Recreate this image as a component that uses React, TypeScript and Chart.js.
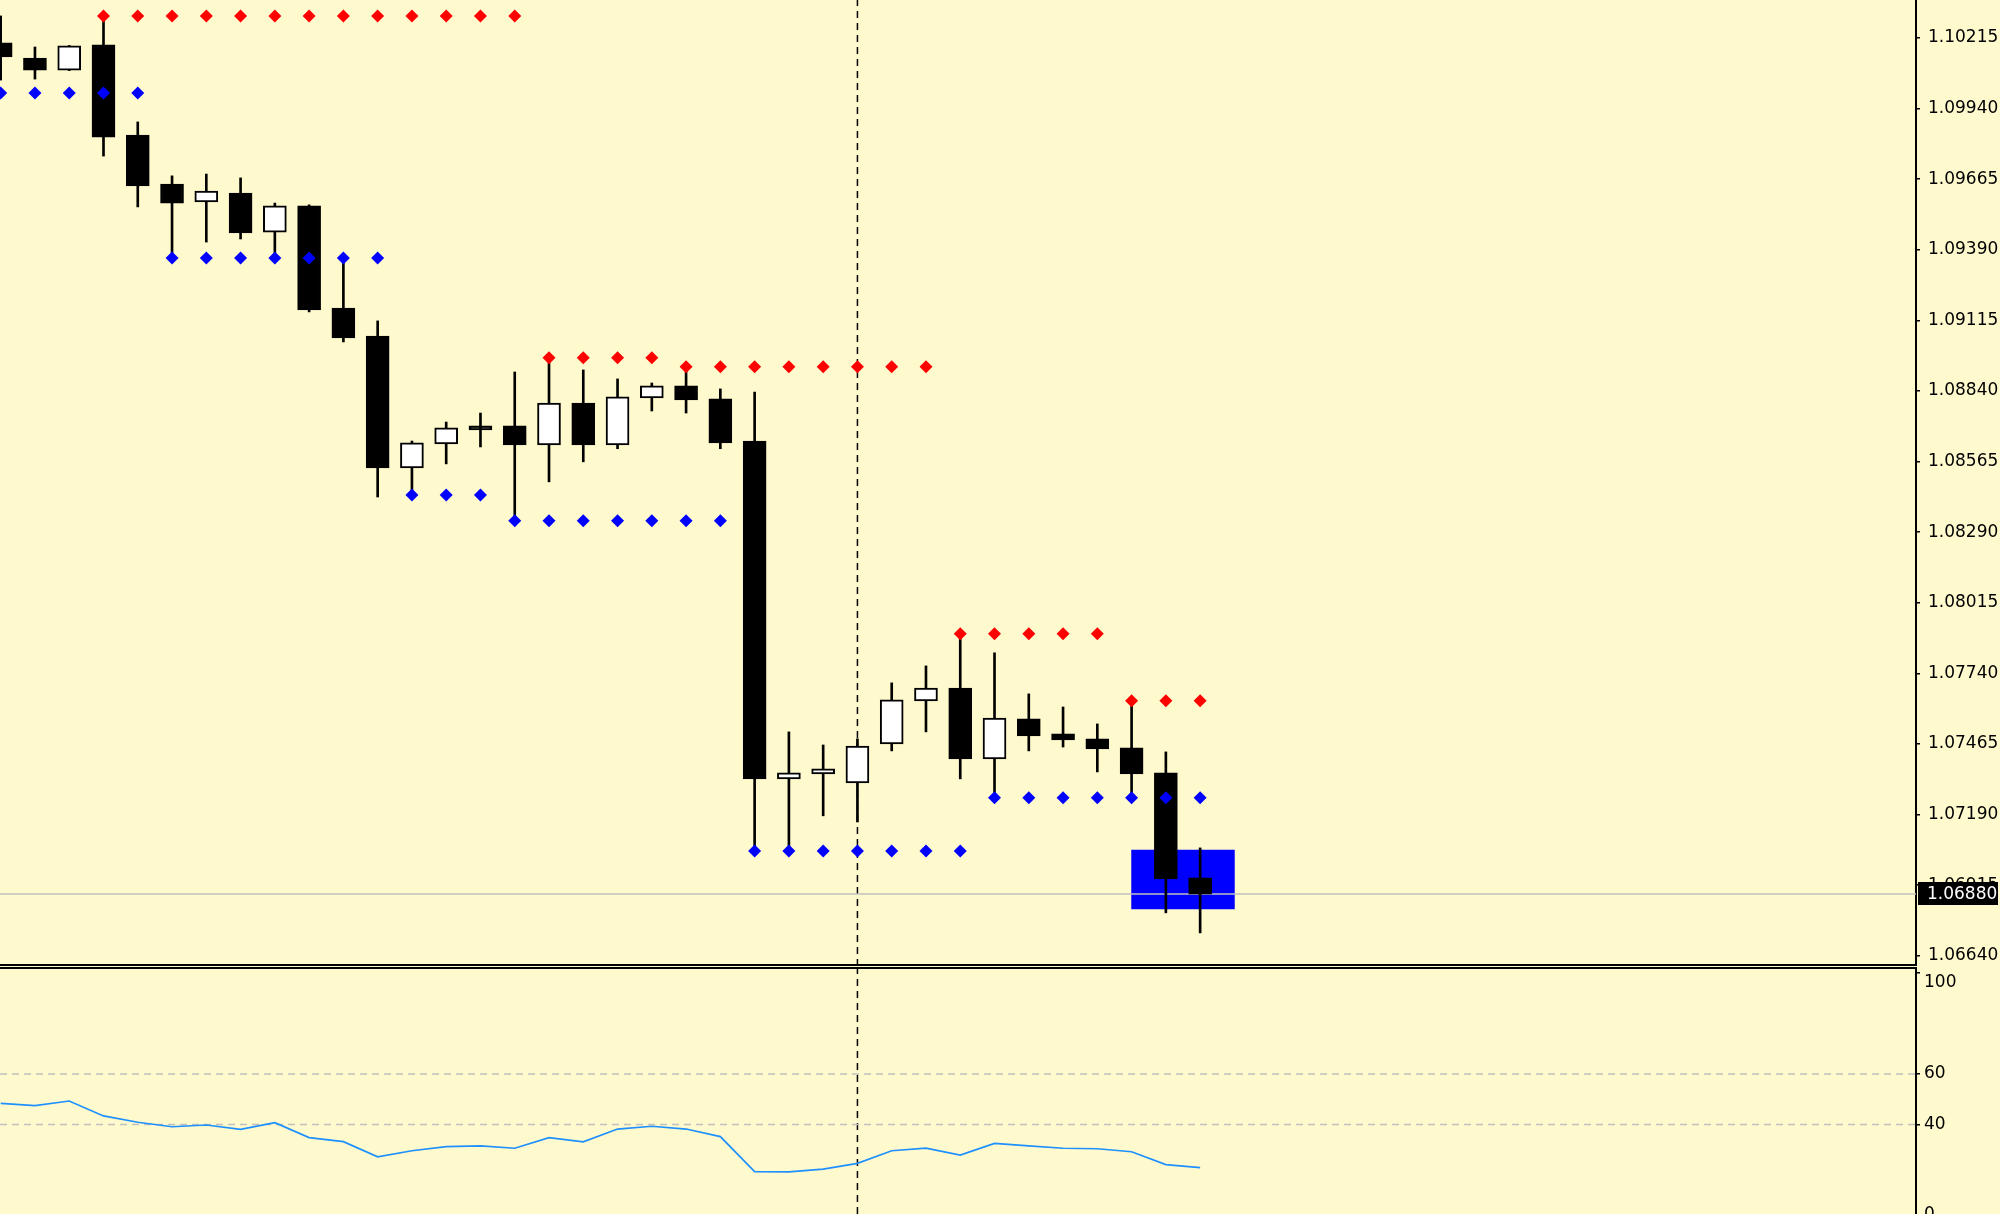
import React, { useEffect, useRef } from 'react';
import { Chart, registerables } from 'chart.js';

Chart.register(...registerables);

// ---------- data ----------
const opens = [
  1.10196, 1.10137, 1.1009, 1.10188, 1.09837, 1.09646, 1.09576, 1.09611, 1.09459, 1.09561,
  1.09163, 1.09054, 1.0854, 1.08634, 1.08704, 1.08704, 1.0863, 1.08793, 1.0863, 1.08813,
  1.0886, 1.08809, 1.08645, 1.07329, 1.07348, 1.07313, 1.07465, 1.07633, 1.07683, 1.07407,
  1.07563, 1.07504, 1.07485, 1.0745, 1.07352, 1.06943,
];
const highs = [
  1.10301, 1.1018, 1.10186, 1.10285, 1.09888, 1.09678, 1.09685, 1.0967, 1.09572, 1.09565,
  1.09343, 1.09113, 1.08645, 1.08719, 1.08754, 1.08914, 1.08965, 1.08922, 1.08887, 1.08871,
  1.08925, 1.08848, 1.08836, 1.07512, 1.07461, 1.07485, 1.07703, 1.07769, 1.0789, 1.0782,
  1.0766, 1.07609, 1.07543, 1.07633, 1.07434, 1.0706,
];
const lows = [
  1.10051, 1.10055, 1.10088, 1.09755, 1.09557, 1.09358, 1.0942, 1.09432, 1.09358, 1.09148,
  1.09031, 1.08427, 1.08435, 1.08556, 1.08622, 1.08334, 1.08486, 1.08564, 1.08615, 1.08762,
  1.08754, 1.08615, 1.07052, 1.07052, 1.07185, 1.07161, 1.07438, 1.07512, 1.07329, 1.07255,
  1.07438, 1.07453, 1.07356, 1.07255, 1.06807, 1.06729,
];
const closes = [
  1.10141, 1.1009, 1.10184, 1.09829, 1.09639, 1.09572, 1.09619, 1.09456, 1.09561, 1.09156,
  1.09047, 1.0854, 1.08638, 1.08696, 1.08688, 1.0863, 1.08793, 1.0863, 1.08817, 1.0886,
  1.08805, 1.08638, 1.07329, 1.07352, 1.07368, 1.07457, 1.07637, 1.07683, 1.07407, 1.07566,
  1.07496, 1.07481, 1.07446, 1.07348, 1.06939, 1.0688,
];
// resistance (red) and support (blue) marker levels per bar
const resistanceLevels: (number | null)[] = [
  null, null, null, 1.10301, 1.10301, 1.10301, 1.10301, 1.10301, 1.10301, 1.10301,
  1.10301, 1.10301, 1.10301, 1.10301, 1.10301, 1.10301, 1.08969, 1.08969, 1.08969, 1.08969,
  1.08934, 1.08934, 1.08934, 1.08934, 1.08934, 1.08934, 1.08934, 1.08934, 1.07894, 1.07894,
  1.07894, 1.07894, 1.07894, 1.07633, 1.07633, 1.07633,
];
const supportLevels: (number | null)[] = [
  1.10001, 1.10001, 1.10001, 1.10001, 1.10001, 1.09358, 1.09358, 1.09358, 1.09358, 1.09358,
  1.09358, 1.09358, 1.08435, 1.08435, 1.08435, 1.08334, 1.08334, 1.08334, 1.08334, 1.08334,
  1.08334, 1.08334, 1.07048, 1.07048, 1.07048, 1.07048, 1.07048, 1.07048, 1.07048, 1.07255,
  1.07255, 1.07255, 1.07255, 1.07255, 1.07255, 1.07255,
];
const oscValues = [
  48.4, 47.5, 49.3, 43.4, 40.9, 39.1, 39.8, 38.1, 40.7, 34.8,
  33.2, 27.2, 29.6, 31.2, 31.5, 30.6, 34.8, 33.1, 38.2, 39.3,
  38.2, 35.2, 21.3, 21.2, 22.3, 24.6, 29.6, 30.6, 27.9, 32.5,
  31.5, 30.6, 30.4, 29.2, 24.1, 22.9,
];
const priceTicks = [
  1.10215, 1.0994, 1.09665, 1.0939, 1.09115, 1.0884, 1.08565, 1.0829, 1.08015, 1.0774,
  1.07465, 1.0719, 1.06915, 1.0664,
];
const oscTicks = [100, 60, 40];
const oscLevels = [60, 40];
const oscEdgeLabels = ['100', '0'];
const currentPrice = 1.0688;
const zoneStart = 33;
const zoneEnd = 36;
const zoneTop = 1.07052;
const zoneBottom = 1.06822;
const markerBar = 25;

// ---------- layout constants ----------
const BG = '#FFFACD';
const W = 2000;
const MAIN_H = 966;
const LOW_TOP = 966;
const LOW_H = 248;
const AXIS_W = 84;
const X_MIN = -0.02;
const PX_PER_BAR = 34.27;
const X_MAX = X_MIN + (W - AXIS_W) / PX_PER_BAR;
const P_MIN = 1.066;
const P_MAX = 1.10363;
const R_MIN = 4.55;
const R_MAX = 101.98;
const FONT = { family: '"DejaVu Sans"', size: 17 };

const framePlugin = (where: 'bottom' | 'top') => ({
  id: 'frame_' + where,
  afterDraw(chart: any) {
    const { ctx, chartArea } = chart;
    ctx.save();
    ctx.strokeStyle = '#000';
    ctx.lineWidth = 2;
    ctx.beginPath();
    const y = where === 'bottom' ? chartArea.bottom - 1 : chartArea.top;
    ctx.moveTo(0, y);
    ctx.lineTo(chartArea.right + 1, y);
    ctx.stroke();
    ctx.restore();
  },
});

const priceLabelPlugin = {
  id: 'priceLabel',
  afterDraw(chart: any) {
    const s = chart.scales.y;
    const ctx = chart.ctx;
    const y = s.getPixelForValue(currentPrice);
    ctx.save();
    ctx.fillStyle = '#000';
    ctx.fillRect(s.left + 2, Math.round(y) - 12, 80, 23);
    ctx.fillStyle = '#fff';
    ctx.font = `${FONT.size}px ${FONT.family}`;
    ctx.textBaseline = 'middle';
    ctx.textAlign = 'left';
    ctx.fillText(currentPrice.toFixed(5), s.left + 11, y);
    ctx.restore();
  },
};

const oscEdgeLabelPlugin = {
  id: 'oscEdgeLabels',
  afterDraw(chart: any) {
    const s = chart.scales.y;
    const ctx = chart.ctx;
    ctx.save();
    ctx.fillStyle = '#000';
    ctx.font = `${FONT.size}px ${FONT.family}`;
    ctx.textBaseline = 'middle';
    ctx.textAlign = 'left';
    ctx.fillText(oscEdgeLabels[0], s.left + 8, s.getPixelForValue(100) + 10);
    ctx.fillText(oscEdgeLabels[1], s.left + 8, s.getPixelForValue(0) - 11);
    ctx.restore();
  },
};

export default function App() {
  const mainRef = useRef<HTMLCanvasElement>(null);
  const lowRef = useRef<HTMLCanvasElement>(null);

  useEffect(() => {
    document.body.style.margin = '0';
    const idx = opens.map((_, i) => i);

    const main = new Chart(mainRef.current as HTMLCanvasElement, {
      type: 'bar',
      data: {
        datasets: [
          {
            type: 'line',
            label: 'res',
            data: idx.map((i) => ({ x: i, y: resistanceLevels[i] })),
            showLine: false,
            pointStyle: 'rectRot',
            pointRadius: 6.5,
            pointBackgroundColor: '#ff0000',
            pointBorderWidth: 0,
            order: 0,
          } as any,
          {
            type: 'line',
            label: 'sup',
            data: idx.map((i) => ({ x: i, y: supportLevels[i] })),
            showLine: false,
            pointStyle: 'rectRot',
            pointRadius: 6.5,
            pointBackgroundColor: '#0000ff',
            pointBorderWidth: 0,
            order: 0,
          } as any,
          {
            type: 'bar',
            label: 'body',
            data: idx.map((i) => ({ x: i, y: [opens[i], closes[i]] })),
            backgroundColor: idx.map((i) => (closes[i] >= opens[i] ? '#ffffff' : '#000000')),
            borderColor: '#000',
            borderWidth: 2,
            borderSkipped: false,
            barThickness: 23,
            grouped: false,
            order: 1,
          } as any,
          {
            type: 'bar',
            label: 'wick',
            data: idx.map((i) => ({ x: i, y: [lows[i], highs[i]] })),
            backgroundColor: '#000',
            borderWidth: 0,
            barThickness: 2,
            grouped: false,
            order: 2,
          } as any,
          {
            type: 'line',
            label: 'price',
            data: [
              { x: X_MIN, y: currentPrice },
              { x: X_MAX, y: currentPrice },
            ],
            borderColor: '#c0c0c0',
            borderWidth: 1.5,
            pointRadius: 0,
            order: 3,
          } as any,
          {
            type: 'bar',
            label: 'zone',
            data: [{ x: (zoneStart + zoneEnd) / 2, y: [zoneBottom, zoneTop] }],
            backgroundColor: '#0000ff',
            borderWidth: 0,
            barThickness: (zoneEnd - zoneStart) * PX_PER_BAR,
            grouped: false,
            order: 4,
          } as any,
          {
            type: 'line',
            label: 'marker',
            data: [
              { x: markerBar, y: P_MIN },
              { x: markerBar, y: P_MAX },
            ],
            borderColor: '#000',
            borderWidth: 1.5,
            borderDash: [7, 5],
            pointRadius: 0,
            order: 5,
          } as any,
        ],
      },
      options: {
        responsive: false,
        animation: false,
        devicePixelRatio: 1,
        events: [],
        layout: { padding: 0, autoPadding: false },
        plugins: { legend: { display: false }, tooltip: { enabled: false } },
        scales: {
          x: { type: 'linear', min: X_MIN, max: X_MAX, display: false, offset: false },
          y: {
            type: 'linear',
            position: 'right',
            min: P_MIN,
            max: P_MAX,
            afterBuildTicks: (s: any) => {
              s.ticks = priceTicks.map((v) => ({ value: v }));
            },
            afterFit: (s: any) => {
              s.width = AXIS_W;
              s.paddingTop = 0;
              s.paddingBottom = 0;
            },
            grid: { drawOnChartArea: false, drawTicks: true, tickLength: 4, color: '#000', lineWidth: 1.5 },
            border: { display: true, color: '#000', width: 2 },
            ticks: {
              autoSkip: false,
              padding: 8,
              color: '#000',
              font: FONT,
              callback: (v: any) => Number(v).toFixed(5),
            },
          },
        },
      } as any,
      plugins: [framePlugin('bottom'), priceLabelPlugin],
    });

    const low = new Chart(lowRef.current as HTMLCanvasElement, {
      type: 'line',
      data: {
        datasets: [
          {
            label: 'osc',
            data: idx.map((i) => ({ x: i, y: oscValues[i] })),
            borderColor: '#1e90ff',
            borderWidth: 1.7,
            pointRadius: 0,
            tension: 0,
            order: 0,
          },
          ...oscLevels.map((lv) => ({
            label: 'lvl' + lv,
            data: [
              { x: X_MIN, y: lv },
              { x: X_MAX, y: lv },
            ],
            borderColor: '#c0c0c0',
            borderWidth: 1.5,
            borderDash: [7, 5],
            pointRadius: 0,
            order: 2,
          })),
          {
            label: 'marker',
            data: [
              { x: markerBar, y: R_MIN },
              { x: markerBar, y: R_MAX },
            ],
            borderColor: '#000',
            borderWidth: 1.5,
            borderDash: [7, 5],
            pointRadius: 0,
            order: 3,
          },
        ] as any,
      },
      options: {
        responsive: false,
        animation: false,
        devicePixelRatio: 1,
        events: [],
        layout: { padding: { top: 2, left: 0, right: 0, bottom: 0 }, autoPadding: false },
        plugins: { legend: { display: false }, tooltip: { enabled: false } },
        scales: {
          x: { type: 'linear', min: X_MIN, max: X_MAX, display: false, offset: false },
          y: {
            type: 'linear',
            position: 'right',
            min: R_MIN,
            max: R_MAX,
            afterBuildTicks: (s: any) => {
              s.ticks = oscTicks.map((v) => ({ value: v }));
            },
            afterFit: (s: any) => {
              s.width = AXIS_W;
              s.paddingTop = 0;
              s.paddingBottom = 0;
            },
            grid: { drawOnChartArea: false, drawTicks: true, tickLength: 4, color: '#000', lineWidth: 1.5 },
            border: { display: true, color: '#000', width: 2 },
            ticks: {
              autoSkip: false,
              padding: 4,
              color: '#000',
              font: FONT,
              callback: (v: any) => (v === 100 ? '' : String(v)),
            },
          },
        },
      } as any,
      plugins: [framePlugin('top'), oscEdgeLabelPlugin],
    });

    return () => {
      main.destroy();
      low.destroy();
    };
  }, []);

  return (
    <div
      style={{
        position: 'fixed',
        left: 0,
        top: 0,
        width: W,
        height: 1214,
        background: BG,
        overflow: 'hidden',
      }}
    >
      <canvas
        ref={mainRef}
        width={W}
        height={MAIN_H}
        style={{ position: 'absolute', left: 0, top: 0, width: W, height: MAIN_H, display: 'block' }}
      />
      <canvas
        ref={lowRef}
        width={W}
        height={LOW_H}
        style={{ position: 'absolute', left: 0, top: LOW_TOP, width: W, height: LOW_H, display: 'block' }}
      />
    </div>
  );
}
